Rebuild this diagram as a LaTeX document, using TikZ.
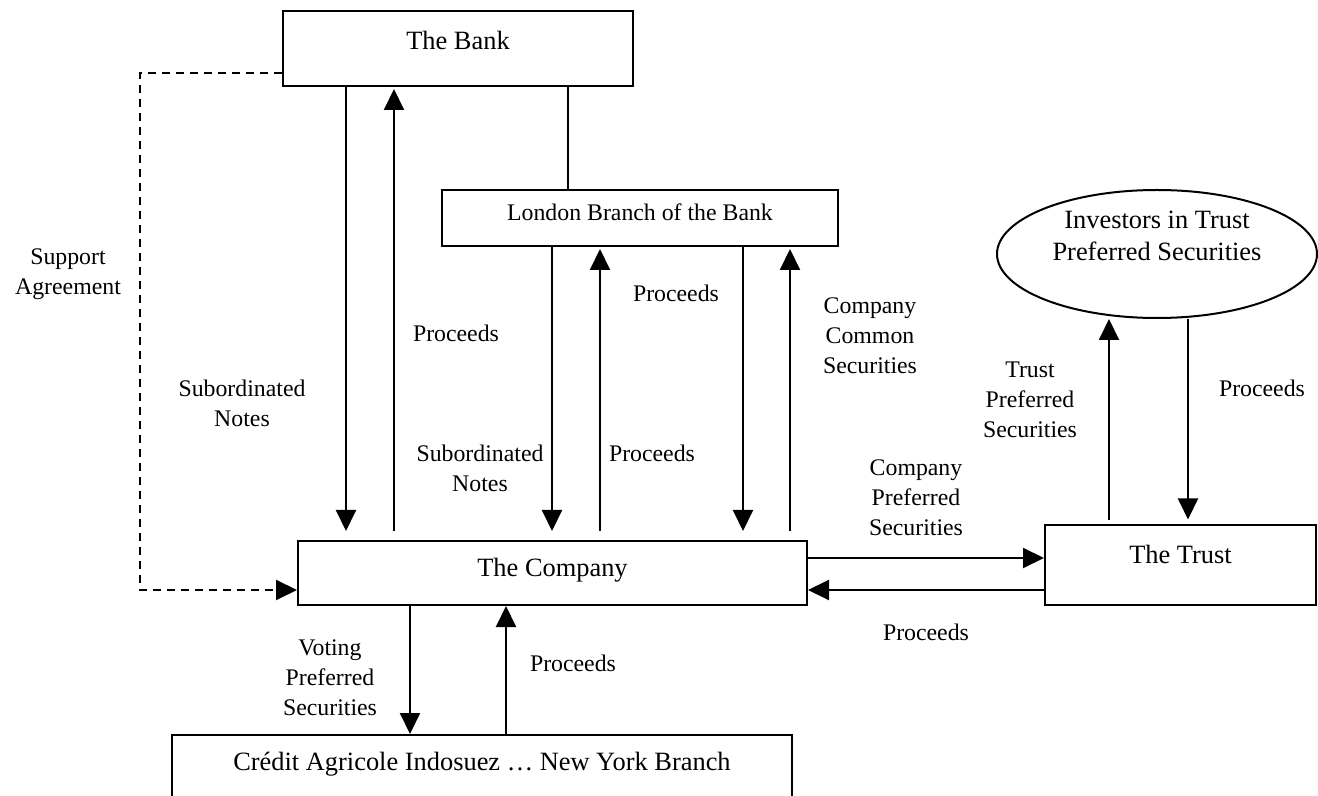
\documentclass[tikz,border=0pt]{standalone}
\usepackage{fontspec}
\setmainfont{Liberation Serif}
\usetikzlibrary{arrows.meta,positioning,shapes.geometric}

\begin{document}
\begin{tikzpicture}[
    x=0.5pt, y=-0.5pt,
    box/.style={rectangle, draw, line width=1pt, inner sep=0pt},
    oval/.style={ellipse, draw, line width=1pt, inner sep=0pt},
    arrow/.style={-{Triangle[length=10.5pt,width=10pt]}, line width=1pt},
    link/.style={line width=1pt},
    big/.style={font=\fontsize{13.2}{16}\selectfont, align=center},
    lbl/.style={font=\fontsize{11.9}{15}\selectfont, align=center}
    ]
    \useasboundingbox (0,0) rectangle (1318,796);
    \clip (0,0) rectangle (1318,796);

    % Boxes
    \node[box, minimum width=175pt, minimum height=37.5pt,
          label={[big, yshift=4pt]center:The Bank}] (bank) at (458,48.5) {};
    \node[box, minimum width=198pt, minimum height=28pt,
          label={[lbl, yshift=3pt]center:London Branch of the Bank}] (london) at (640,218) {};
    \node[box, minimum width=254.5pt, minimum height=32pt,
          label={[big, yshift=1.5pt]center:The Company}] (company) at (552.5,573) {};
    \node[box, minimum width=135.5pt, minimum height=40pt,
          label={[big, yshift=5.5pt]center:The Trust}] (trust) at (1180.5,565.5) {};
    \node[box, minimum width=310pt, minimum height=37.5pt,
          label={[big, yshift=4pt]center:Crédit Agricole Indosuez … New York Branch}] (credit) at (482,772.5) {};
    \node[oval, minimum width=160pt, minimum height=64pt,
          label={[big, yshift=9pt]center:Investors in Trust\\Preferred Securities}] (investors) at (1157,254) {};

    % Columns and rows of the connectors
    \coordinate (colA) at (346,0);
    \coordinate (colB) at (394,0);
    \coordinate (colC) at (552,0);
    \coordinate (colD) at (600,0);
    \coordinate (colE) at (743,0);
    \coordinate (colF) at (790,0);
    \coordinate (colG) at (568,0);
    \coordinate (colH) at (410,0);
    \coordinate (colI) at (506,0);
    \coordinate (colJ) at (1109,0);
    \coordinate (colK) at (1188,0);
    \coordinate (colS) at (140,0);
    \coordinate (rowS) at (0,73);
    \coordinate (rowA) at (0,558);
    \coordinate (rowB) at (0,590);

    % Support agreement
    \draw[link, dash pattern=on 4pt off 3pt, -{Triangle[length=10.5pt,width=10pt]}]
        (bank.west |- rowS) -- (colS |- rowS) -- (colS |- rowB) -- (company.west |- rowB);

    % Bank and Company
    \draw[arrow, shorten >=4.5pt] (bank.south -| colA) -- (company.north -| colA);
    \draw[arrow, shorten <=4.5pt, shorten >=1pt] (company.north -| colB) -- (bank.south -| colB);
    \draw[link] (bank.south -| colG) -- (london.north -| colG);

    % London Branch and Company
    \draw[arrow, shorten >=4.5pt] (london.south -| colC) -- (company.north -| colC);
    \draw[arrow, shorten <=4.5pt, shorten >=1pt] (company.north -| colD) -- (london.south -| colD);
    \draw[arrow, shorten >=4.5pt] (london.south -| colE) -- (company.north -| colE);
    \draw[arrow, shorten <=4.5pt, shorten >=1pt] (company.north -| colF) -- (london.south -| colF);

    % Company and Trust
    \draw[arrow] (company.east |- rowA) -- (trust.west |- rowA);
    \draw[arrow] (trust.west |- rowB) -- (company.east |- rowB);

    % Trust and Investors
    \draw[arrow, shorten <=2pt] (trust.north -| colJ) -- (investors.south -| colJ);
    \draw[arrow, shorten >=2.5pt] (investors.south -| colK) -- (trust.north -| colK);

    % Company and Credit Agricole
    \draw[arrow] (company.south -| colH) -- (credit.north -| colH);
    \draw[arrow] (credit.north -| colI) -- (company.south -| colI);

    % Labels
    \node[lbl] (support) at (68,274) {Support\\Agreement};
    \node[lbl] (notesbank) at (242,403) {Subordinated\\Notes};
    \node[lbl] (procbank) at (456,333) {Proceeds};
    \node[lbl] (proclondon) at (676,293) {Proceeds};
    \node[lbl] (common) at (870,336) {Company\\Common\\Securities};
    \node[lbl] (noteslondon) at (480,468) {Subordinated\\Notes};
    \node[lbl] (proccompany) at (652,453) {Proceeds};
    \node[lbl] (preferred) at (916,498) {Company\\Preferred\\Securities};
    \node[lbl] (proctrust) at (926,632) {Proceeds};
    \node[lbl] (trustpref) at (1030,400) {Trust\\Preferred\\Securities};
    \node[lbl] (procinv) at (1262,388) {Proceeds};
    \node[lbl] (voting) at (330,678) {Voting\\Preferred\\Securities};
    \node[lbl] (proccredit) at (573,663) {Proceeds};
\end{tikzpicture}
\end{document}
